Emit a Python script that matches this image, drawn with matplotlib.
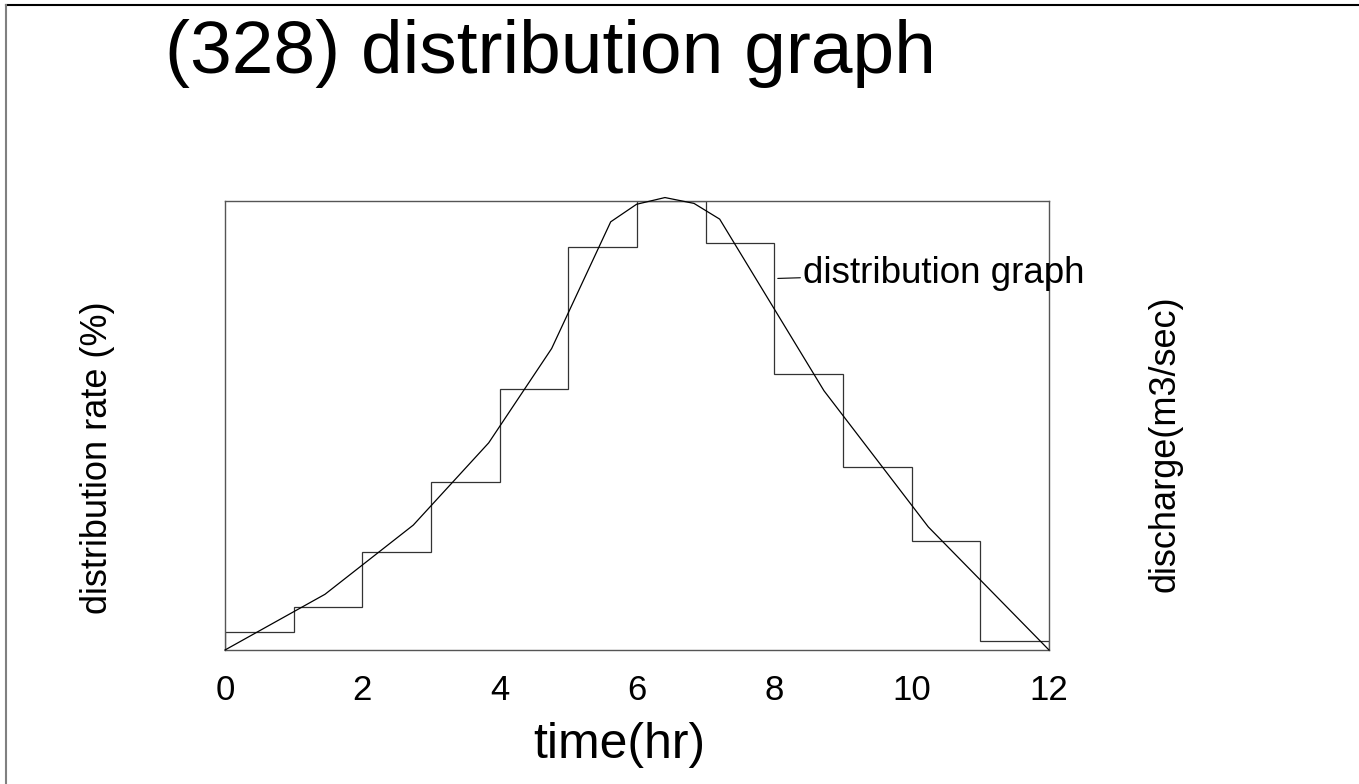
import matplotlib
matplotlib.use("Agg")
import matplotlib.pyplot as plt
from matplotlib.lines import Line2D

plt.rcParams['font.family'] = ['Liberation Sans', 'DejaVu Sans']

# Distribution graph (hourly distribution rate, %)
hour_edges = [0, 1, 2, 3, 4, 5, 6, 7, 8, 9, 10, 11, 12]
distribution_rate = [0.75, 1.78, 4.05, 6.9, 10.73, 16.6, 18.5, 16.74, 11.36, 7.52, 4.49, 0.37]

# Hydrograph (discharge, relative units)
curve_hours = [0.0, 1.456, 2.742, 3.84, 4.757, 5.617, 5.993, 6.407, 6.83, 7.204, 8.723, 10.242, 12.0]
curve_discharge = [0.0, 12.4, 27.8, 46.1, 67.1, 95.3, 99.2, 100.7, 99.4, 95.9, 57.7, 27.4, 0.0]

x_ticks = [0, 2, 4, 6, 8, 10, 12]

W, H = 1359, 784
fig = plt.figure(figsize=(W / 100, H / 100), dpi=100)

ax = fig.add_axes([225 / W, 1 - 650 / H, (1049 - 225) / W, (650 - 200.7) / H])
ax.stairs(distribution_rate, hour_edges, color='#333333', lw=0.9)
ax.set_xlim(0, 12)
ax.set_ylim(0, 18.5)
ax.set_yticks([])
ax.set_xticks(x_ticks)
ax.set_xticklabels([str(t) for t in x_ticks], fontsize=25)
ax.tick_params(axis='x', length=0, pad=17)
for s in ax.spines.values():
    s.set_color('#555555')
    s.set_linewidth(1.0)

ax2 = ax.twinx()
ax2.plot(curve_hours, curve_discharge, color='black', lw=0.9, clip_on=False)
ax2.set_ylim(0, 100)
ax2.set_yticks([])
for s in ax2.spines.values():
    s.set_visible(False)

ax.annotate('distribution graph', xy=(8.05, 15.3), xytext=(8.42, 15.5),
            fontsize=26.5, va='center', ha='left',
            arrowprops=dict(arrowstyle='-', color='black', lw=0.8, shrinkA=0, shrinkB=0))

fig.text(619 / W, 1 - 745 / H, 'time(hr)', fontsize=36, ha='center', va='center')

fig.text(98 / W, 1 - 458 / H, 'distribution rate (%)', rotation=90,
         fontsize=26, ha='center', va='center')
fig.text(1165 / W, 1 - 444 / H, 'discharge(m3/sec)', rotation=90,
         fontsize=26, ha='center', va='center')
fig.text(165 / W, 1 - 53 / H, '(328) distribution graph', fontsize=54,
         ha='left', va='center')

# figure frame lines (top and left)
fig.add_artist(Line2D([6 / W, 1], [1 - 5 / H, 1 - 5 / H], transform=fig.transFigure,
                      color='black', lw=1.5))
fig.add_artist(Line2D([6 / W, 6 / W], [0, 1 - 5 / H], transform=fig.transFigure,
                      color='#808080', lw=1.5))

fig.savefig('out.png', dpi=100)
